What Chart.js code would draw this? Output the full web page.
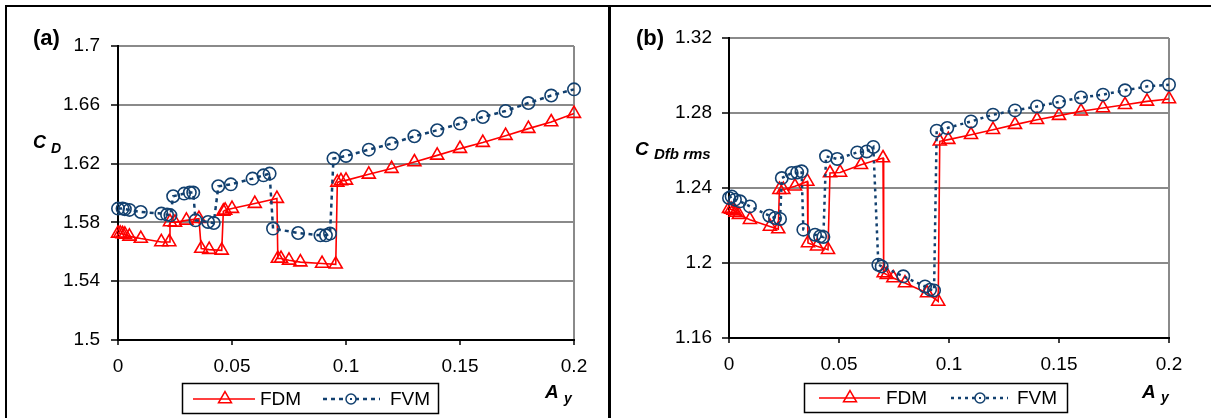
<!DOCTYPE html>
<html><head><meta charset="utf-8">
<script src="https://cdn.jsdelivr.net/npm/chart.js@4.4.1/dist/chart.umd.min.js"></script>
<style>
html,body{margin:0;padding:0;background:#fff;}
#wrap{position:relative;width:1211px;height:418px;overflow:hidden;background:#fff;}
canvas{position:absolute;left:0;top:0;}
.ln{position:absolute;background:#000;}
</style></head><body>
<div id="wrap">
<canvas id="ca" width="1211" height="418"></canvas>
<canvas id="cb" width="1211" height="418"></canvas>
<div class="ln" style="left:5px;top:5px;width:1206px;height:2px"></div>
<div class="ln" style="left:5px;top:5px;width:2px;height:413px"></div>
<div class="ln" style="left:608px;top:5px;width:3px;height:413px"></div>
</div>
<script>
// ---------- data ----------
const xTicks = [0, 0.05, 0.1, 0.15, 0.2];
const yTicksA = [1.5, 1.54, 1.58, 1.62, 1.66, 1.7];
const yTicksB = [1.16, 1.2, 1.24, 1.28, 1.32];

// Panel (a): C_D
const fdmA_x = [0, 0.001, 0.002, 0.003, 0.005, 0.01, 0.019, 0.0225, 0.0228, 0.025, 0.03, 0.0355, 0.0365, 0.04, 0.0455, 0.0462, 0.047, 0.05, 0.06, 0.0697, 0.0701, 0.0715, 0.075, 0.08, 0.0895, 0.0955, 0.0962, 0.0978, 0.1, 0.11, 0.12, 0.13, 0.14, 0.15, 0.16, 0.17, 0.18, 0.19, 0.2];
const fdmA_y = [1.5725, 1.5725, 1.5722, 1.5718, 1.5705, 1.569, 1.5667, 1.5667, 1.5803, 1.580, 1.5814, 1.5826, 1.5622, 1.5615, 1.561, 1.5875, 1.5882, 1.5894, 1.5928, 1.5962, 1.5554, 1.5554, 1.5542, 1.553, 1.552, 1.5515, 1.6072, 1.6082, 1.6086, 1.6127, 1.6166, 1.6211, 1.6256, 1.6302, 1.6343, 1.639, 1.6438, 1.6483, 1.654];
const fvmA_x = [0, 0.002, 0.003, 0.005, 0.01, 0.019, 0.0215, 0.023, 0.0242, 0.029, 0.0315, 0.033, 0.034, 0.0395, 0.042, 0.044, 0.0495, 0.059, 0.0638, 0.0665, 0.068, 0.079, 0.0888, 0.0912, 0.093, 0.0945, 0.1, 0.11, 0.12, 0.13, 0.14, 0.15, 0.16, 0.17, 0.18, 0.19, 0.2];
const fvmA_y = [1.5894, 1.5894, 1.589, 1.5885, 1.5871, 1.586, 1.5853, 1.5848, 1.5978, 1.5996, 1.6003, 1.6003, 1.5814, 1.5803, 1.5796, 1.6046, 1.6059, 1.6098, 1.612, 1.6132, 1.5758, 1.5728, 1.5712, 1.5712, 1.5724, 1.6234, 1.6252, 1.6295, 1.6336, 1.6386, 1.6427, 1.6472, 1.6517, 1.6558, 1.6612, 1.6663, 1.6705];

// Panel (b): C_Dfb rms
const fdmB_x = [0, 0.001, 0.002, 0.003, 0.0045, 0.0095, 0.0186, 0.0224, 0.0229, 0.0247, 0.03, 0.0356, 0.0359, 0.04, 0.045, 0.0459, 0.0505, 0.06, 0.07, 0.0703, 0.0717, 0.0747, 0.08, 0.09, 0.0951, 0.0958, 0.0997, 0.11, 0.12, 0.13, 0.14, 0.15, 0.16, 0.17, 0.18, 0.19, 0.2];
const fdmB_y = [1.229, 1.2285, 1.228, 1.227, 1.2258, 1.2231, 1.2195, 1.2181, 1.2391, 1.2391, 1.2409, 1.2435, 1.2107, 1.2089, 1.2071, 1.248, 1.2483, 1.2524, 1.256, 1.1947, 1.1938, 1.192, 1.1893, 1.184, 1.1795, 1.2649, 1.2658, 1.2684, 1.2711, 1.2738, 1.2764, 1.2786, 1.2809, 1.2827, 1.2844, 1.2862, 1.2875];
const fvmB_x = [0, 0.0012, 0.0027, 0.005, 0.0095, 0.0183, 0.0209, 0.0232, 0.024, 0.0285, 0.031, 0.033, 0.0338, 0.0391, 0.0414, 0.0429, 0.0441, 0.0492, 0.0583, 0.0626, 0.0656, 0.0679, 0.0694, 0.0792, 0.0891, 0.0914, 0.0932, 0.0944, 0.0992, 0.11, 0.12, 0.13, 0.14, 0.15, 0.16, 0.17, 0.18, 0.19, 0.2];
const fvmB_y = [1.2347, 1.2355, 1.2338, 1.2329, 1.2302, 1.2252, 1.224, 1.2235, 1.2453, 1.248, 1.2483, 1.2489, 1.2178, 1.2151, 1.2142, 1.2139, 1.2569, 1.2555, 1.259, 1.2595, 1.2619, 1.1991, 1.1982, 1.1929, 1.1875, 1.1858, 1.1854, 1.2706, 1.272, 1.2755, 1.2791, 1.2814, 1.2835, 1.2859, 1.2883, 1.2898, 1.2921, 1.2942, 1.2951];

const seriesNames = ['FDM', 'FVM'];

// ---------- styles ----------
const FONT = '"Liberation Sans", Arial, Helvetica, sans-serif';
const RED = '#FF0000';
const NAVY = '#12406F';
const GRID = '#8a8a8a';
const NONE = 'rgba(0,0,0,0)';

function zip(xs, ys) { return xs.map((x, i) => ({x: x, y: ys[i]})); }

function tri(ctx, x, y, r) {
  ctx.beginPath();
  for (let i = 0; i < 3; i++) {
    const a = i * 2 * Math.PI / 3;
    const px = x + Math.sin(a) * r, py = y - Math.cos(a) * r;
    if (i) ctx.lineTo(px, py); else ctx.moveTo(px, py);
  }
  ctx.closePath(); ctx.stroke();
}

function textPlugin(o) {
  return {
    id: 'txt' + o.id,
    afterDraw(chart) {
      const ctx = chart.ctx;
      ctx.save();
      ctx.fillStyle = '#000';
      ctx.textBaseline = 'alphabetic';
      ctx.textAlign = 'left';
      ctx.font = 'bold 22px ' + FONT;
      ctx.fillText(o.tag, o.tagX, 45);
      ctx.font = 'italic bold ' + o.cSize + 'px ' + FONT;
      ctx.fillText('C', o.cX, o.cY);
      ctx.font = 'italic bold ' + o.subSize + 'px ' + FONT;
      ctx.fillText(o.sub, o.subX, o.subY);
      ctx.font = 'italic bold 19px ' + FONT;
      ctx.fillText('A', o.aX, 398);
      ctx.font = 'italic bold 14px ' + FONT;
      ctx.fillText('y', o.aX + 19, o.ayY);
      const L = o.leg;
      ctx.lineWidth = 1.5; ctx.strokeStyle = '#000'; ctx.setLineDash([]);
      ctx.strokeRect(L.x + 0.5, L.y + 0.5, L.w, L.h);
      ctx.strokeStyle = RED; ctx.lineWidth = 1.5;
      ctx.beginPath(); ctx.moveTo(L.r1, L.cy); ctx.lineTo(L.r2, L.cy); ctx.stroke();
      tri(ctx, L.rt, L.cy, 7.5);
      ctx.fillStyle = '#000';
      ctx.font = '19px ' + FONT;
      ctx.textBaseline = 'middle';
      ctx.fillText(seriesNames[0], L.t1, L.cy + 1);
      ctx.strokeStyle = NAVY; ctx.lineWidth = 2.5; ctx.setLineDash(o.dash);
      ctx.beginPath(); ctx.moveTo(L.n1, L.cy); ctx.lineTo(L.n2, L.cy); ctx.stroke();
      ctx.setLineDash([]); ctx.lineWidth = 1.5;
      ctx.fillStyle = '#fff';
      ctx.beginPath(); ctx.arc(L.nc, L.cy, 5, 0, Math.PI * 2); ctx.fill(); ctx.stroke();
      ctx.fillStyle = NAVY; ctx.fillRect(L.nc - 1, L.cy - 1, 2, 2);
      ctx.fillStyle = '#000';
      ctx.fillText(seriesNames[1], L.t2, L.cy + 1);
      ctx.restore();
    }
  };
}

function makeChart(o) {
  return new Chart(document.getElementById(o.canvas), {
    type: 'scatter',
    data: {
      datasets: [
        {label: seriesNames[1], data: zip(o.fvmX, o.fvmY), showLine: true, borderColor: NAVY, borderWidth: 2.5,
         borderDash: o.dash, pointStyle: 'circle', pointRadius: 6.2, pointBorderWidth: 1.6, pointBorderColor: NAVY,
         pointBackgroundColor: NONE, backgroundColor: NONE, clip: false, order: 0, tension: 0},
        {label: seriesNames[0], data: zip(o.fdmX, o.fdmY), showLine: true, borderColor: RED, borderWidth: 1.6,
         pointStyle: 'triangle', pointRadius: 7.5, pointBorderWidth: 1.6, pointBorderColor: RED,
         pointBackgroundColor: NONE, backgroundColor: NONE, clip: false, order: 1, tension: 0}
      ]
    },
    options: {
      responsive: false, animation: false, devicePixelRatio: 1, events: [],
      layout: {padding: o.pad},
      plugins: {legend: {display: false}, tooltip: {enabled: false}},
      scales: {
        x: {
          type: 'linear', min: 0, max: 0.2,
          afterFit: s => { s.height = o.xh; },
          afterBuildTicks: s => { s.ticks = xTicks.map(v => ({value: v})); },
          ticks: {autoSkip: false, maxRotation: 0, padding: 10, color: '#000',
                  font: {family: FONT, size: 19}, callback: v => String(v)},
          grid: {drawOnChartArea: true, lineWidth: 2, tickLength: 5, tickWidth: 1.5, tickColor: '#000',
                 color: c => (c.tick && c.tick.value === 0.2) ? GRID : NONE},
          border: {color: '#000', width: 2}
        },
        y: {
          type: 'linear', min: o.yTicks[0], max: o.yTicks[o.yTicks.length - 1],
          afterFit: s => { s.width = 60; },
          afterBuildTicks: s => { s.ticks = o.yTicks.map(v => ({value: v})); },
          ticks: {autoSkip: false, padding: o.yPad, color: '#000',
                  font: {family: FONT, size: 19}, callback: v => String(v)},
          grid: {lineWidth: 2, tickLength: 7, tickWidth: 1.5, tickColor: '#000',
                 color: c => (c.tick && c.tick.value === o.yTicks[0]) ? NONE : GRID},
          border: {color: '#000', width: 2}
        }
      }
    },
    plugins: [textPlugin(o)]
  });
}

makeChart({
  id: 'a', canvas: 'ca', fdmX: fdmA_x, fdmY: fdmA_y, fvmX: fvmA_x, fvmY: fvmA_y, yTicks: yTicksA,
  pad: {left: 58, right: 637, top: 46, bottom: 0}, xh: 78, yPad: 11, dash: [4, 4],
  tag: '(a)', tagX: 33, cSize: 18, cX: 33, cY: 148, sub: 'D', subSize: 14, subX: 51, subY: 153,
  aX: 545, ayY: 403,
  leg: {x: 182, y: 383, w: 256, h: 30, cy: 399, r1: 193, r2: 255, rt: 225, t1: 260, n1: 323, n2: 380, nc: 351, t2: 390}
});
makeChart({
  id: 'b', canvas: 'cb', fdmX: fdmB_x, fdmY: fdmB_y, fvmX: fvmB_x, fvmY: fvmB_y, yTicks: yTicksB,
  pad: {left: 669, right: 42, top: 38, bottom: 0}, xh: 80, yPad: 10, dash: [3, 4],
  tag: '(b)', tagX: 636, cSize: 19, cX: 635, cY: 155, sub: 'Dfb rms', subSize: 15, subX: 654, subY: 159,
  aX: 1142, ayY: 402,
  leg: {x: 804, y: 383, w: 263, h: 29, cy: 398, r1: 819, r2: 880, rt: 850, t1: 886, n1: 951, n2: 1008, nc: 980, t2: 1017}
});
</script>
</body></html>
